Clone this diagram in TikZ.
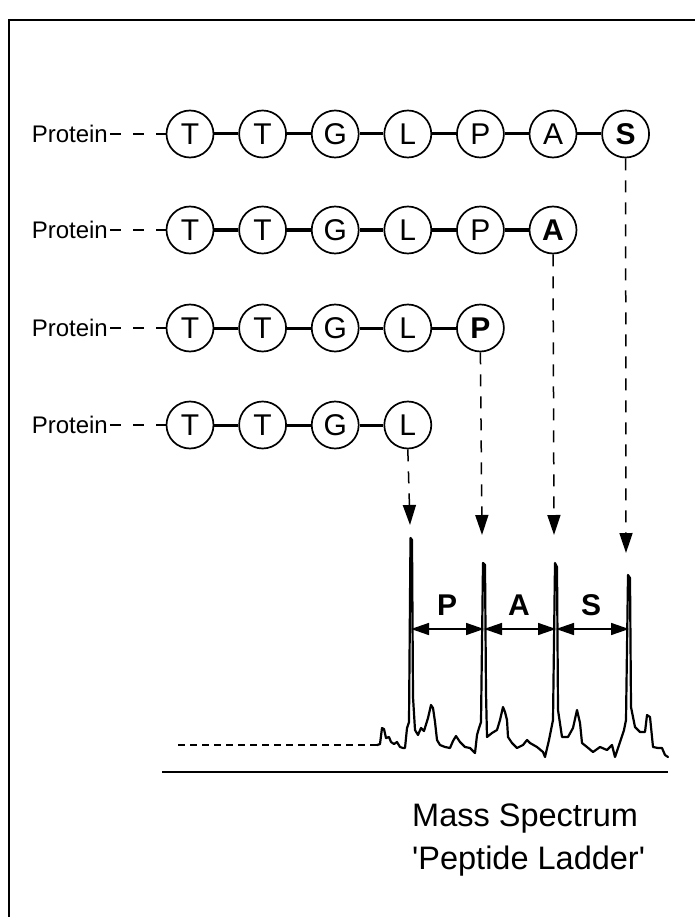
\documentclass[tikz,border=0pt]{standalone}
\usepackage{fontspec}
\newfontfamily\hv{Liberation Sans}
\usetikzlibrary{arrows.meta}

\begin{document}
\begin{tikzpicture}[x=1pt,y=-1pt,
  every node/.style={font=\hv},
  res/.style={circle,draw,line width=1.7pt,minimum size=47pt,inner sep=0pt,
    font=\hv\fontsize{30}{30}\selectfont,text height=21.5pt,text depth=0pt},
  lastres/.style={res,font=\hv\bfseries\fontsize{30}{30}\selectfont},
  plabel/.style={anchor=east,inner sep=0pt,font=\hv\fontsize{24}{24}\selectfont,
    text height=17.2pt,text depth=0pt},
  bond/.style={line width=3pt},
  tail/.style={line width=1.6pt,dash pattern=on 11pt off 12pt,shorten <=2pt},
  drop/.style={line width=1.5pt,dash pattern=on 12pt off 10pt,
    -{Triangle[length=20pt,width=13pt]}},
  gaparrow/.style={line width=1.5pt,
    {Triangle[length=18pt,width=12pt]}-{Triangle[length=18pt,width=12pt]}},
  gaplabel/.style={inner sep=0pt,font=\hv\bfseries\fontsize{30}{30}\selectfont},
  caption/.style={anchor=base west,inner sep=0pt,font=\hv\fontsize{32.5}{32.5}\selectfont},
  trace/.style={line width=2.2pt,line join=round,line cap=round},
  frame/.style={line width=2pt}
]
\useasboundingbox (0,0) rectangle (695,917);

% open frame: top and left edges only
\draw[frame] (695,20) -- (9,20) -- (9,917);

% peptide chains, each one residue shorter than the one above;
% the cleaved residue (bold) is marked in the upper three chains
\foreach \r/\y/\last/\bold in {1/134/7/1, 2/230/6/1, 3/328/5/1, 4/425/4/0} {
  \node[plabel] (prot\r) at (108,\y) {Protein};
  \foreach \l [count=\i] in {T,T,G,L,P,A,S} {
    \ifnum\i<\last
      \node[res] (a\r-\i) at ({190+72.6*(\i-1)},\y) {\l};
    \else\ifnum\i=\last
      \ifnum\bold=1
        \node[lastres] (a\r-\i) at ({190+72.6*(\i-1)},\y) {\l};
      \else
        \node[res] (a\r-\i) at ({190+72.6*(\i-1)},\y) {\l};
      \fi
    \fi\fi
  }
  \draw[tail] (prot\r.east) -- (a\r-1.west);
  \foreach \i in {2,...,\last} {
    \pgfmathtruncatemacro\h{\i-1}
    \draw[bond] (a\r-\h) -- (a\r-\i);
  }
}

% arrow tips above the spectrum peaks
\coordinate (tip1) at (626,553);
\coordinate (tip2) at (554,535);
\coordinate (tip3) at (482,535);
\coordinate (tip4) at (410,525);
\draw[drop] (a1-7.south) -- (tip1);
\draw[drop] (a2-6.south) -- (tip2);
\draw[drop] (a3-5.south) -- (tip3);
\draw[drop] (a4-4.south) -- (tip4);

% baseline before the first signal
\coordinate (base0) at (178,745);
\coordinate (base1) at (377,745);
\draw[line width=1.8pt,dash pattern=on 7pt off 5pt] (base0) -- (base1);

% mass spectrum trace
\draw[trace] plot[sharp plot] coordinates {
 (377,745) (380,744) (382,728) (384,729) (386,738) (389,737) (391,742) (394,744)
 (397,742) (400,747) (403,748) (405,748) (407,728) (409,722) (410.5,538) (412,540)
 (413,697) (415,730) (418,735) (421,728) (424,731) (428,718) (431,705) (433,708)
 (435,722) (437,740) (440,745) (445,747) (450,748) (453,741) (456,736) (458,739)
 (460,742) (465,747) (470,748) (475,753) (477,735) (479,728) (481,722) (483,563)
 (485,565) (486,693) (487,737) (492,733) (497,730) (500,720) (503,707) (505,712)
 (507,720) (508,737) (512,743) (517,748) (523,745) (527,740) (530,743) (537,747)
 (543,752) (545,757) (549,740) (551,730) (553,720) (555,563) (557,567) (558,710)
 (562,737) (568,737) (573,728) (577,710) (580,723) (582,743) (587,747) (593,752)
 (600,747) (607,750) (612,745) (615,757) (620,742) (624,730) (626,720) (628,575)
 (630,578) (631,707) (635,727) (640,732) (645,732) (647,715) (650,717) (653,747)
 (658,748) (662,748) (665,755) (668,757)};

% mass differences between neighbouring peaks
\coordinate (m0) at (411,629);
\coordinate (m1) at (484,629);
\coordinate (m2) at (556,629);
\coordinate (m3) at (629,629);
\draw[gaparrow] (m0) -- (m1);
\draw[gaparrow] (m1) -- (m2);
\draw[gaparrow] (m2) -- (m3);
\node[gaplabel] (lP) at (447,605) {P};
\node[gaplabel] (lA) at (519,605) {A};
\node[gaplabel] (lS) at (591,605) {S};

% axis and caption
\coordinate (ax0) at (162,772);
\coordinate (ax1) at (668,772);
\draw[line width=1.5pt] (ax0) -- (ax1);
\node[caption] (cap1) at (412,826) {Mass Spectrum};
\node[caption] (cap2) at (412,869) {'Peptide Ladder'};
\end{tikzpicture}
\end{document}
